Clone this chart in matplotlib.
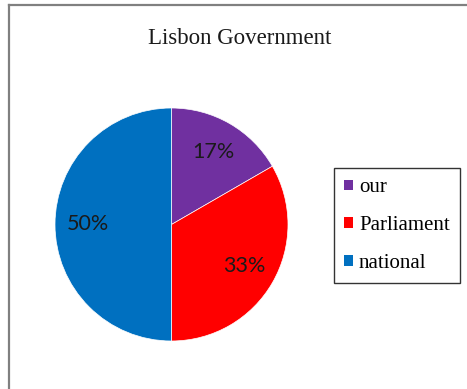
import matplotlib
matplotlib.use('Agg')
import matplotlib.pyplot as plt
from matplotlib.lines import Line2D
from matplotlib.patches import Patch

# Chart data
labels = ['our', 'Parliament', 'national']
values = [1, 2, 3]
colors = ['#7030A0', '#FF0000', '#0070C0']
title = 'Lisbon Government'

W, H = 467, 389
fig = plt.figure(figsize=(W / 100, H / 100), dpi=100)

# outer chart frame (left and top edges visible)
fig.add_artist(Line2D([8.5 / W, 8.5 / W], [0, 1 - 5 / H], color='#808080', lw=1.6,
                      transform=fig.transFigure))
fig.add_artist(Line2D([8.5 / W, 1], [1 - 5 / H, 1 - 5 / H], color='#808080', lw=1.6,
                      transform=fig.transFigure))

# pie centred at (171.5, 224.5) px with radius 116.5 px
cx, cy, r = 171.5, 224.5, 116.5
ax = fig.add_axes([(cx - r) / W, (H - cy - r) / H, 2 * r / W, 2 * r / H])
wedges, texts, autotexts = ax.pie(values, colors=colors, startangle=90, counterclock=False,
                                  autopct='%1.0f%%', pctdistance=0.72,
                                  wedgeprops=dict(edgecolor='white', linewidth=0.5),
                                  textprops=dict(fontsize=15.5, family='Lato', color='#1a1a1a'))
ax.set_xlim(-1, 1)
ax.set_ylim(-1, 1)

fig.text(240 / W, 1 - 38 / H, title, ha='center', va='center',
         fontsize=16.5, family='Liberation Serif', color='#1a1a1a')

handles = [Patch(facecolor=c, edgecolor='none') for c in colors]
leg = fig.legend(handles, labels, loc='upper left',
                 bbox_to_anchor=(334 / W, 1 - 168 / H),
                 prop=dict(family='Liberation Serif', size=15),
                 frameon=True, fancybox=False, edgecolor='black',
                 handlelength=0.4, handleheight=0.4, handletextpad=0.3,
                 labelspacing=0.9, borderpad=0.5, borderaxespad=0)
leg.get_frame().set_linewidth(1.0)

fig.savefig('out.png', dpi=100)
